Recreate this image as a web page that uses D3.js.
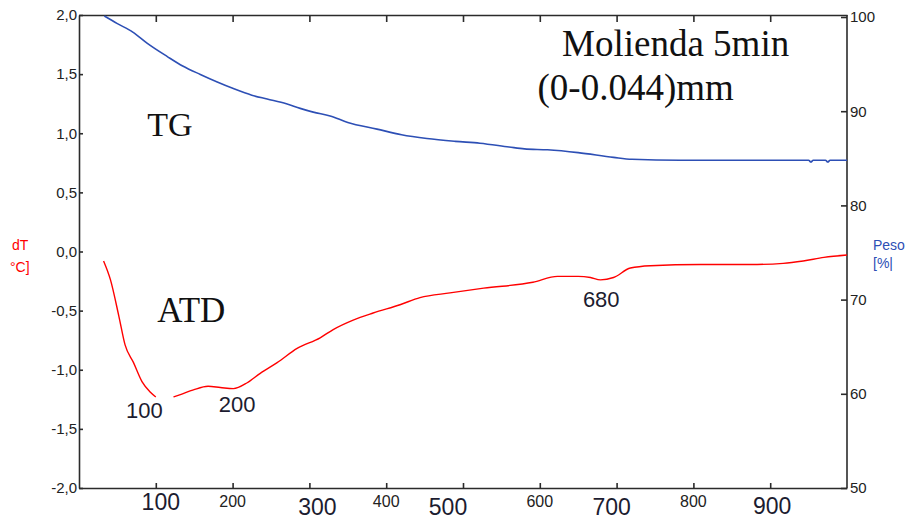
<!DOCTYPE html>
<html>
<head>
<meta charset="utf-8">
<script src="https://cdn.jsdelivr.net/npm/d3@7"></script>
<style>
	body { margin: 0; background: #fff; }
	.axis path, .axis line { stroke: #2b2b2b; stroke-width: 1.6px; }
	.axis text { font-family: "Liberation Sans", Arial, sans-serif; fill: #222; }
</style>
</head>
<body>
<div id="chart-area"></div>
<script>
// TG curve: temperature (°C) and weight (%)
const tgTemp = [33, 50, 70, 89, 115, 135, 158, 180, 201, 225, 245, 270, 288, 305, 327, 350, 388, 420, 453, 490, 522, 560, 580, 610, 650, 696, 720, 783, 850, 950, 953, 956, 972, 975, 978, 1000]
const tgWeight = [100.1, 99.3, 98.4, 97.2, 95.8, 94.8, 93.9, 93.1, 92.4, 91.7, 91.3, 90.8, 90.3, 89.9, 89.5, 88.8, 88.1, 87.5, 87.1, 86.8, 86.6, 86.2, 86.0, 85.9, 85.6, 85.1, 84.9, 84.8, 84.8, 84.8, 84.6, 84.8, 84.8, 84.6, 84.8, 84.8]

// ATD curve: temperature (°C) and dT (°C), null = gap in the trace
const atdTemp = [32, 41, 52, 60, 71, 82, 93, 100, 110, 123, 132, 149, 168, 184, 201, 219, 236, 258, 284, 314, 331, 357, 383, 418, 444, 483, 527, 591, 623, 650, 666, 679, 696, 718, 744, 809, 874, 917, 943, 970, 1000]
const atdDiff = [-0.08, -0.24, -0.55, -0.79, -0.94, -1.10, -1.19, -1.23, null, -1.23, -1.21, -1.17, -1.14, -1.15, -1.16, -1.11, -1.03, -0.94, -0.82, -0.73, -0.66, -0.58, -0.52, -0.45, -0.39, -0.35, -0.31, -0.26, -0.21, -0.21, -0.22, -0.24, -0.22, -0.14, -0.12, -0.11, -0.11, -0.10, -0.08, -0.05, -0.03]

// peak annotations (text, temperature, dT)
const peakLabels = ["100", "200", "680"]
const peakTemp = [85, 206, 680]
const peakDiff = [-1.41, -1.36, -0.47]

// ticks
const leftTicks = [-2, -1.5, -1, -0.5, 0, 0.5, 1, 1.5, 2]
const rightTicks = [50, 60, 70, 80, 90, 100]
const xTicks = [100, 200, 300, 400, 500, 600, 700, 800, 900]
const smallXLabels = [200, 400, 600, 800]
const bigXLabels = [100, 300, 500, 700, 900]

const MARGIN = { LEFT: 79, RIGHT: 68, TOP: 15, BOTTOM: 32 }
const WIDTH = 915 - MARGIN.LEFT - MARGIN.RIGHT
const HEIGHT = 520 - MARGIN.TOP - MARGIN.BOTTOM

const svg = d3.select("#chart-area").append("svg")
	.attr("width", 915)
	.attr("height", 520)

const g = svg.append("g")
	.attr("transform", `translate(${MARGIN.LEFT}, ${MARGIN.TOP})`)

// scales
const x = d3.scaleLinear().domain([0, 1000]).range([0, WIDTH])
const yL = d3.scaleLinear().domain([-2, 2]).range([HEIGHT, 0])
const yR = d3.scaleLinear().domain([50, 100]).range([HEIGHT, 2])

// axes
g.append("g")
	.attr("class", "axis")
	.call(d3.axisLeft(yL).tickValues(leftTicks).tickSize(-4).tickSizeOuter(0).tickPadding(2)
		.tickFormat(d => d3.format(".1f")(d).replace(".", ",").replace("−", "-")))
	.selectAll("text").attr("font-size", "15px")

g.append("g")
	.attr("class", "axis")
	.attr("transform", `translate(${WIDTH}, 0)`)
	.call(d3.axisRight(yR).tickValues(rightTicks).tickSize(-6).tickSizeOuter(0).tickPadding(3))
	.call(a => a.select(".domain").attr("d", `M0,0V${HEIGHT}`))
	.selectAll("text").attr("font-size", "15px")

g.append("g")
	.attr("class", "axis")
	.attr("transform", `translate(0, ${HEIGHT})`)
	.call(d3.axisBottom(x).tickValues(xTicks).tickSize(-5).tickSizeOuter(0).tickFormat(""))

g.append("g")
	.attr("class", "axis")
	.call(d3.axisTop(x).tickValues(xTicks).tickSize(-7).tickSizeOuter(0).tickFormat(""))

// x labels: small ones from the instrument, large ones typed over
g.selectAll(".small-x")
	.data(smallXLabels)
	.enter().append("text")
	.attr("x", d => x(d))
	.attr("y", HEIGHT + 19)
	.attr("text-anchor", "middle")
	.attr("font-family", "Liberation Sans, Arial, sans-serif")
	.attr("font-size", "16px")
	.attr("fill", "#222")
	.text(d => d)

const bigOffsets = [{ dx: 5, dy: 22 }, { dx: 8, dy: 27 }, { dx: -15, dy: 27 }, { dx: -5, dy: 27 }, { dx: 2, dy: 26 }]
g.selectAll(".big-x")
	.data(bigXLabels)
	.enter().append("text")
	.attr("x", (d, i) => x(d) + bigOffsets[i].dx)
	.attr("y", (d, i) => HEIGHT + bigOffsets[i].dy)
	.attr("text-anchor", "middle")
	.attr("font-family", "Liberation Sans, Arial, sans-serif")
	.attr("font-size", "23px")
	.attr("fill", "#1c1c30")
	.text(d => d)

// curves
const tgData = tgTemp.map((t, i) => [t, tgWeight[i]])
const atdData = atdTemp.map((t, i) => [t, atdDiff[i]])

g.append("path")
	.attr("fill", "none")
	.attr("stroke", "#2d4fb5")
	.attr("stroke-width", "1.6px")
	.attr("d", d3.line().curve(d3.curveMonotoneX).x(d => x(d[0])).y(d => yR(d[1]))(tgData))

g.append("path")
	.attr("fill", "none")
	.attr("stroke", "#ff0000")
	.attr("stroke-width", "1.4px")
	.attr("d", d3.line().curve(d3.curveMonotoneX).defined(d => d[1] !== null)
		.x(d => x(d[0])).y(d => yL(d[1]))(atdData))

// peak labels
g.selectAll(".peak")
	.data(peakLabels)
	.enter().append("text")
	.attr("x", (d, i) => x(peakTemp[i]))
	.attr("y", (d, i) => yL(peakDiff[i]))
	.attr("text-anchor", "middle")
	.attr("font-family", "Liberation Sans, Arial, sans-serif")
	.attr("font-size", "22px")
	.attr("fill", "#1c1c30")
	.text(d => d)

// curve names and title
const serif = "Liberation Serif, Times New Roman, serif"
g.append("text").attr("x", x(89)).attr("y", 121).attr("font-family", serif)
	.attr("font-size", "34px").attr("fill", "#111").text("TG")
g.append("text").attr("x", x(102)).attr("y", 307).attr("font-family", serif)
	.attr("font-size", "35px").attr("fill", "#111").text("ATD")
g.append("text").attr("x", x(629)).attr("y", 41).attr("font-family", serif)
	.attr("font-size", "37px").attr("fill", "#111").text("Molienda 5min")
g.append("text").attr("x", x(597)).attr("y", 85).attr("font-family", serif)
	.attr("font-size", "37px").attr("fill", "#111").text("(0-0.044)mm")

// axis unit labels
const sans = "Liberation Sans, Arial, sans-serif"
svg.append("text").attr("x", 12).attr("y", 250).attr("font-family", sans)
	.attr("font-size", "14px").attr("fill", "#ff0000").text("dT")
svg.append("text").attr("x", 10).attr("y", 272).attr("font-family", sans)
	.attr("font-size", "14px").attr("fill", "#ff0000").text("°C]")
svg.append("text").attr("x", 873).attr("y", 250).attr("font-family", sans)
	.attr("font-size", "14px").attr("fill", "#2d4fb5").text("Peso")
svg.append("text").attr("x", 873).attr("y", 268).attr("font-family", sans)
	.attr("font-size", "14px").attr("fill", "#2d4fb5").text("[%|")
</script>
</body>
</html>
